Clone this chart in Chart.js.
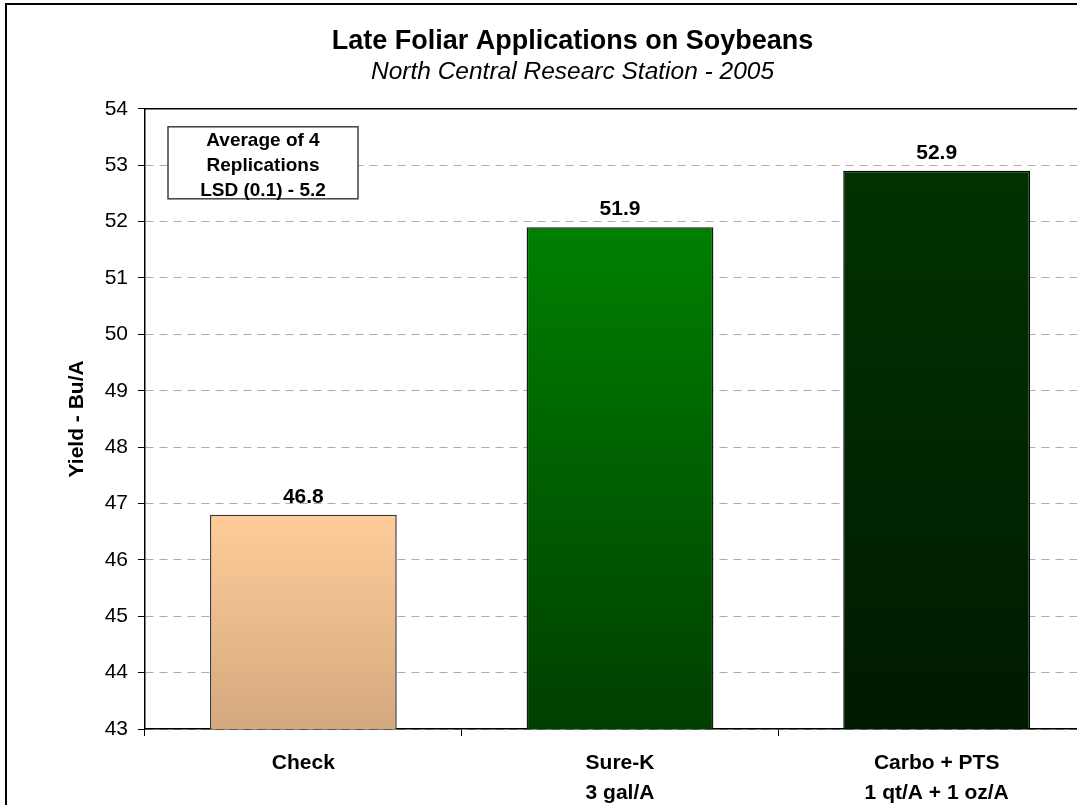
<!DOCTYPE html>
<html>
<head>
<meta charset="utf-8">
<script src="https://cdn.jsdelivr.net/npm/chart.js@4.4.0/dist/chart.umd.min.js"></script>
<style>
  html, body { margin: 0; padding: 0; background: #fff; overflow: hidden; width: 1077px; height: 805px; }
  #frame { position: absolute; left: 5px; top: 3px; width: 1300px; height: 1000px; border: 2px solid #000; pointer-events: none; }
  #c { position: absolute; left: 50px; top: 0px; }
</style>
</head>
<body>
<canvas id="c" width="1045" height="805"></canvas>
<div id="frame"></div>
<script>
// ---- data ----
const categories = [["Check"], ["Sure-K", "3 gal/A"], ["Carbo + PTS", "1 qt/A + 1 oz/A"]];
const yields = [46.8, 51.9, 52.9];
const yTicks = [43, 44, 45, 46, 47, 48, 49, 50, 51, 52, 53, 54];
const titleText = "Late Foliar Applications on Soybeans";
const subtitleText = "North Central Researc Station - 2005";
const yAxisTitle = "Yield - Bu/A";
const noteLines = ["Average of 4", "Replications", "LSD (0.1) - 5.2"];

// ---- styles ----
const FONT = '"Liberation Sans", Arial, Helvetica, sans-serif';
const gradTop = ["#FFCC99", "#008000", "#003300"];
const gradBottom = ["#D4A97E", "#003F00", "#001A00"];
const barBorders = ["#3a3a3a", "#1a1a1a", "#000000"];

function barFill(ctx) {
  const chart = ctx.chart;
  const area = chart.chartArea;
  const i = ctx.dataIndex;
  if (!area || ctx.raw === undefined) return gradTop[i] || gradTop[0];
  const y = chart.scales.y.getPixelForValue(ctx.raw);
  const g = chart.ctx.createLinearGradient(0, y, 0, area.bottom);
  g.addColorStop(0, gradTop[i]);
  g.addColorStop(1, gradBottom[i]);
  return g;
}

const valueLabels = {
  id: 'valueLabels',
  afterDatasetsDraw(chart) {
    const ctx = chart.ctx;
    const meta = chart.getDatasetMeta(0);
    ctx.save();
    ctx.font = 'bold 21px ' + FONT;
    ctx.fillStyle = '#000';
    ctx.textAlign = 'center';
    ctx.textBaseline = 'alphabetic';
    meta.data.forEach((bar, i) => {
      ctx.fillText(yields[i].toFixed(1), bar.x, bar.y - 12);
    });
    ctx.restore();
  }
};

const noteBox = {
  id: 'noteBox',
  afterDatasetsDraw(chart) {
    const ctx = chart.ctx;
    const a = chart.chartArea;
    const x = a.left + 23, y = a.top + 18, w = 190, h = 72;
    ctx.save();
    ctx.fillStyle = '#fff';
    ctx.fillRect(x, y, w, h);
    ctx.strokeStyle = '#404040';
    ctx.lineWidth = 1.5;
    ctx.strokeRect(x, y, w, h);
    ctx.font = 'bold 19px ' + FONT;
    ctx.fillStyle = '#000';
    ctx.textAlign = 'center';
    ctx.textBaseline = 'middle';
    noteLines.forEach((t, k) => ctx.fillText(t, x + w / 2, y + 14 + k * 25));
    // top frame of plot area
    ctx.strokeStyle = '#000';
    ctx.lineWidth = 1.5;
    ctx.beginPath();
    ctx.moveTo(a.left, a.top);
    ctx.lineTo(a.right, a.top);
    ctx.stroke();
    ctx.restore();
  }
};

new Chart(document.getElementById('c'), {
  type: 'bar',
  data: {
    labels: categories,
    datasets: [{
      data: yields,
      backgroundColor: barFill,
      borderColor: barBorders,
      borderWidth: 1.5,
      borderSkipped: false,
      barPercentage: 0.59,
      categoryPercentage: 1.0
    }]
  },
  options: {
    responsive: false,
    animation: false,
    devicePixelRatio: 1,
    layout: { padding: 0 },
    plugins: {
      legend: { display: false },
      tooltip: { enabled: false },
      title: {
        display: true, text: titleText, color: '#000',
        font: { family: FONT, size: 27, weight: 'bold', lineHeight: 1.2 },
        padding: { top: 25, bottom: 0 }
      },
      subtitle: {
        display: true, text: subtitleText, color: '#000',
        font: { family: FONT, size: 24.5, style: 'italic', weight: 'normal', lineHeight: 1.2 },
        padding: { top: 0, bottom: 22 }
      }
    },
    scales: {
      x: {
        offset: true,
        grid: { display: true, drawOnChartArea: false, drawTicks: true, tickLength: 7, tickColor: '#000', offset: true },
        border: { display: true, color: '#000', width: 1.5 },
        ticks: { color: '#000', font: { family: FONT, size: 21, weight: 'bold', lineHeight: 1.43 }, padding: 12, maxRotation: 0, autoSkip: false },
        afterFit(scale) { scale.height = 76; }
      },
      y: {
        min: yTicks[0], max: yTicks[yTicks.length - 1],
        afterBuildTicks(scale) { scale.ticks = yTicks.map(v => ({ value: v })); },
        grid: { color: '#adadad', lineWidth: 1, drawTicks: true, tickLength: 7, tickColor: '#000', tickBorderDash: [], tickWidth: 1 },
        border: { display: true, color: '#000', width: 1.5, dash: [8, 6] },
        ticks: { color: '#000', font: { family: FONT, size: 21 }, padding: 10, callback: v => String(v) },
        title: {
          display: true, text: yAxisTitle, color: '#000',
          font: { family: FONT, size: 21, weight: 'bold', lineHeight: 1.2 },
          padding: { top: 15, bottom: 0 }
        },
        afterFit(scale) { scale.width = 95; }
      }
    }
  },
  plugins: [valueLabels, noteBox]
});
</script>
</body>
</html>
